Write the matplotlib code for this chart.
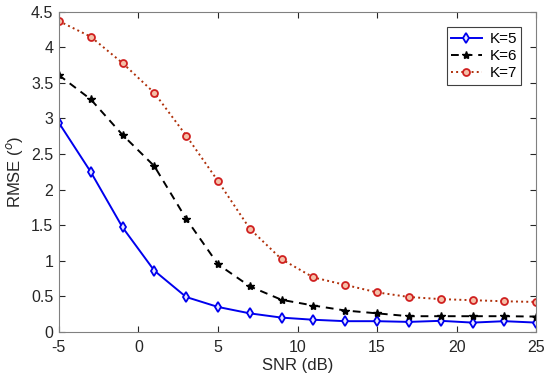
import matplotlib
matplotlib.use('Agg')
from matplotlib import pyplot as plt

snr = [-5, -3, -1, 1, 3, 5, 7, 9, 11, 13, 15, 17, 19, 21, 23, 25]
rmse_k5 = [2.94, 2.25, 1.47, 0.86, 0.49, 0.35, 0.26, 0.20, 0.17, 0.15, 0.15, 0.14, 0.155, 0.13, 0.15, 0.13]
rmse_k6 = [3.61, 3.27, 2.77, 2.33, 1.59, 0.95, 0.64, 0.45, 0.37, 0.30, 0.26, 0.22, 0.22, 0.22, 0.22, 0.215]
rmse_k7 = [4.37, 4.15, 3.78, 3.36, 2.76, 2.12, 1.45, 1.02, 0.765, 0.66, 0.555, 0.49, 0.46, 0.445, 0.43, 0.42]

plt.rcParams['font.family'] = ['Liberation Sans', 'DejaVu Sans']
plt.rcParams['axes.unicode_minus'] = False

fig = plt.figure(figsize=(5.5, 3.81), dpi=100)
ax = fig.add_axes([0.107, 0.129, 0.868, 0.840])

ax.plot(snr, rmse_k5, color='#0000ee', linestyle='-', linewidth=1.4,
        marker='d', markersize=5.5, markerfacecolor='#e8e8ff', markeredgewidth=1.3, label='K=5')
ax.plot(snr, rmse_k6, color='black', linestyle=(0, (4, 3)), linewidth=1.4,
        marker='*', markersize=6, label='K=6')
ax.plot(snr, rmse_k7, color='#b0300a', linestyle=':', linewidth=1.4,
        marker='o', markersize=5, markerfacecolor='#f4c0a8', markeredgecolor='#d02020',
        markeredgewidth=1.3, label='K=7')

ax.set_xlim(-5, 25)
ax.set_ylim(0, 4.5)
ax.set_xticks([-5, 0, 5, 10, 15, 20, 25])
ax.set_yticks([0, 0.5, 1, 1.5, 2, 2.5, 3, 3.5, 4, 4.5])
ax.set_yticklabels(['0', '0.5', '1', '1.5', '2', '2.5', '3', '3.5', '4', '4.5'])
ax.tick_params(direction='in', top=True, right=True, labelsize=11.5, colors='#262626', length=4)
ax.tick_params(axis='x', pad=6)
ax.tick_params(axis='y', pad=4)
for s in ax.spines.values():
    s.set_color('#808080')

ax.set_xlabel('SNR (dB)', fontsize=12, color='#262626', labelpad=2)
ax.set_ylabel('RMSE ($^{o}$)', fontsize=12, color='#262626', labelpad=4)

leg = ax.legend(loc='upper right', bbox_to_anchor=(0.985, 0.975), fontsize=11,
                fancybox=False, framealpha=1, edgecolor='#404040',
                handlelength=2.0, borderpad=0.3, labelspacing=0.2, handletextpad=0.5)
leg.get_frame().set_linewidth(0.8)

fig.savefig('out.png', dpi=100)
